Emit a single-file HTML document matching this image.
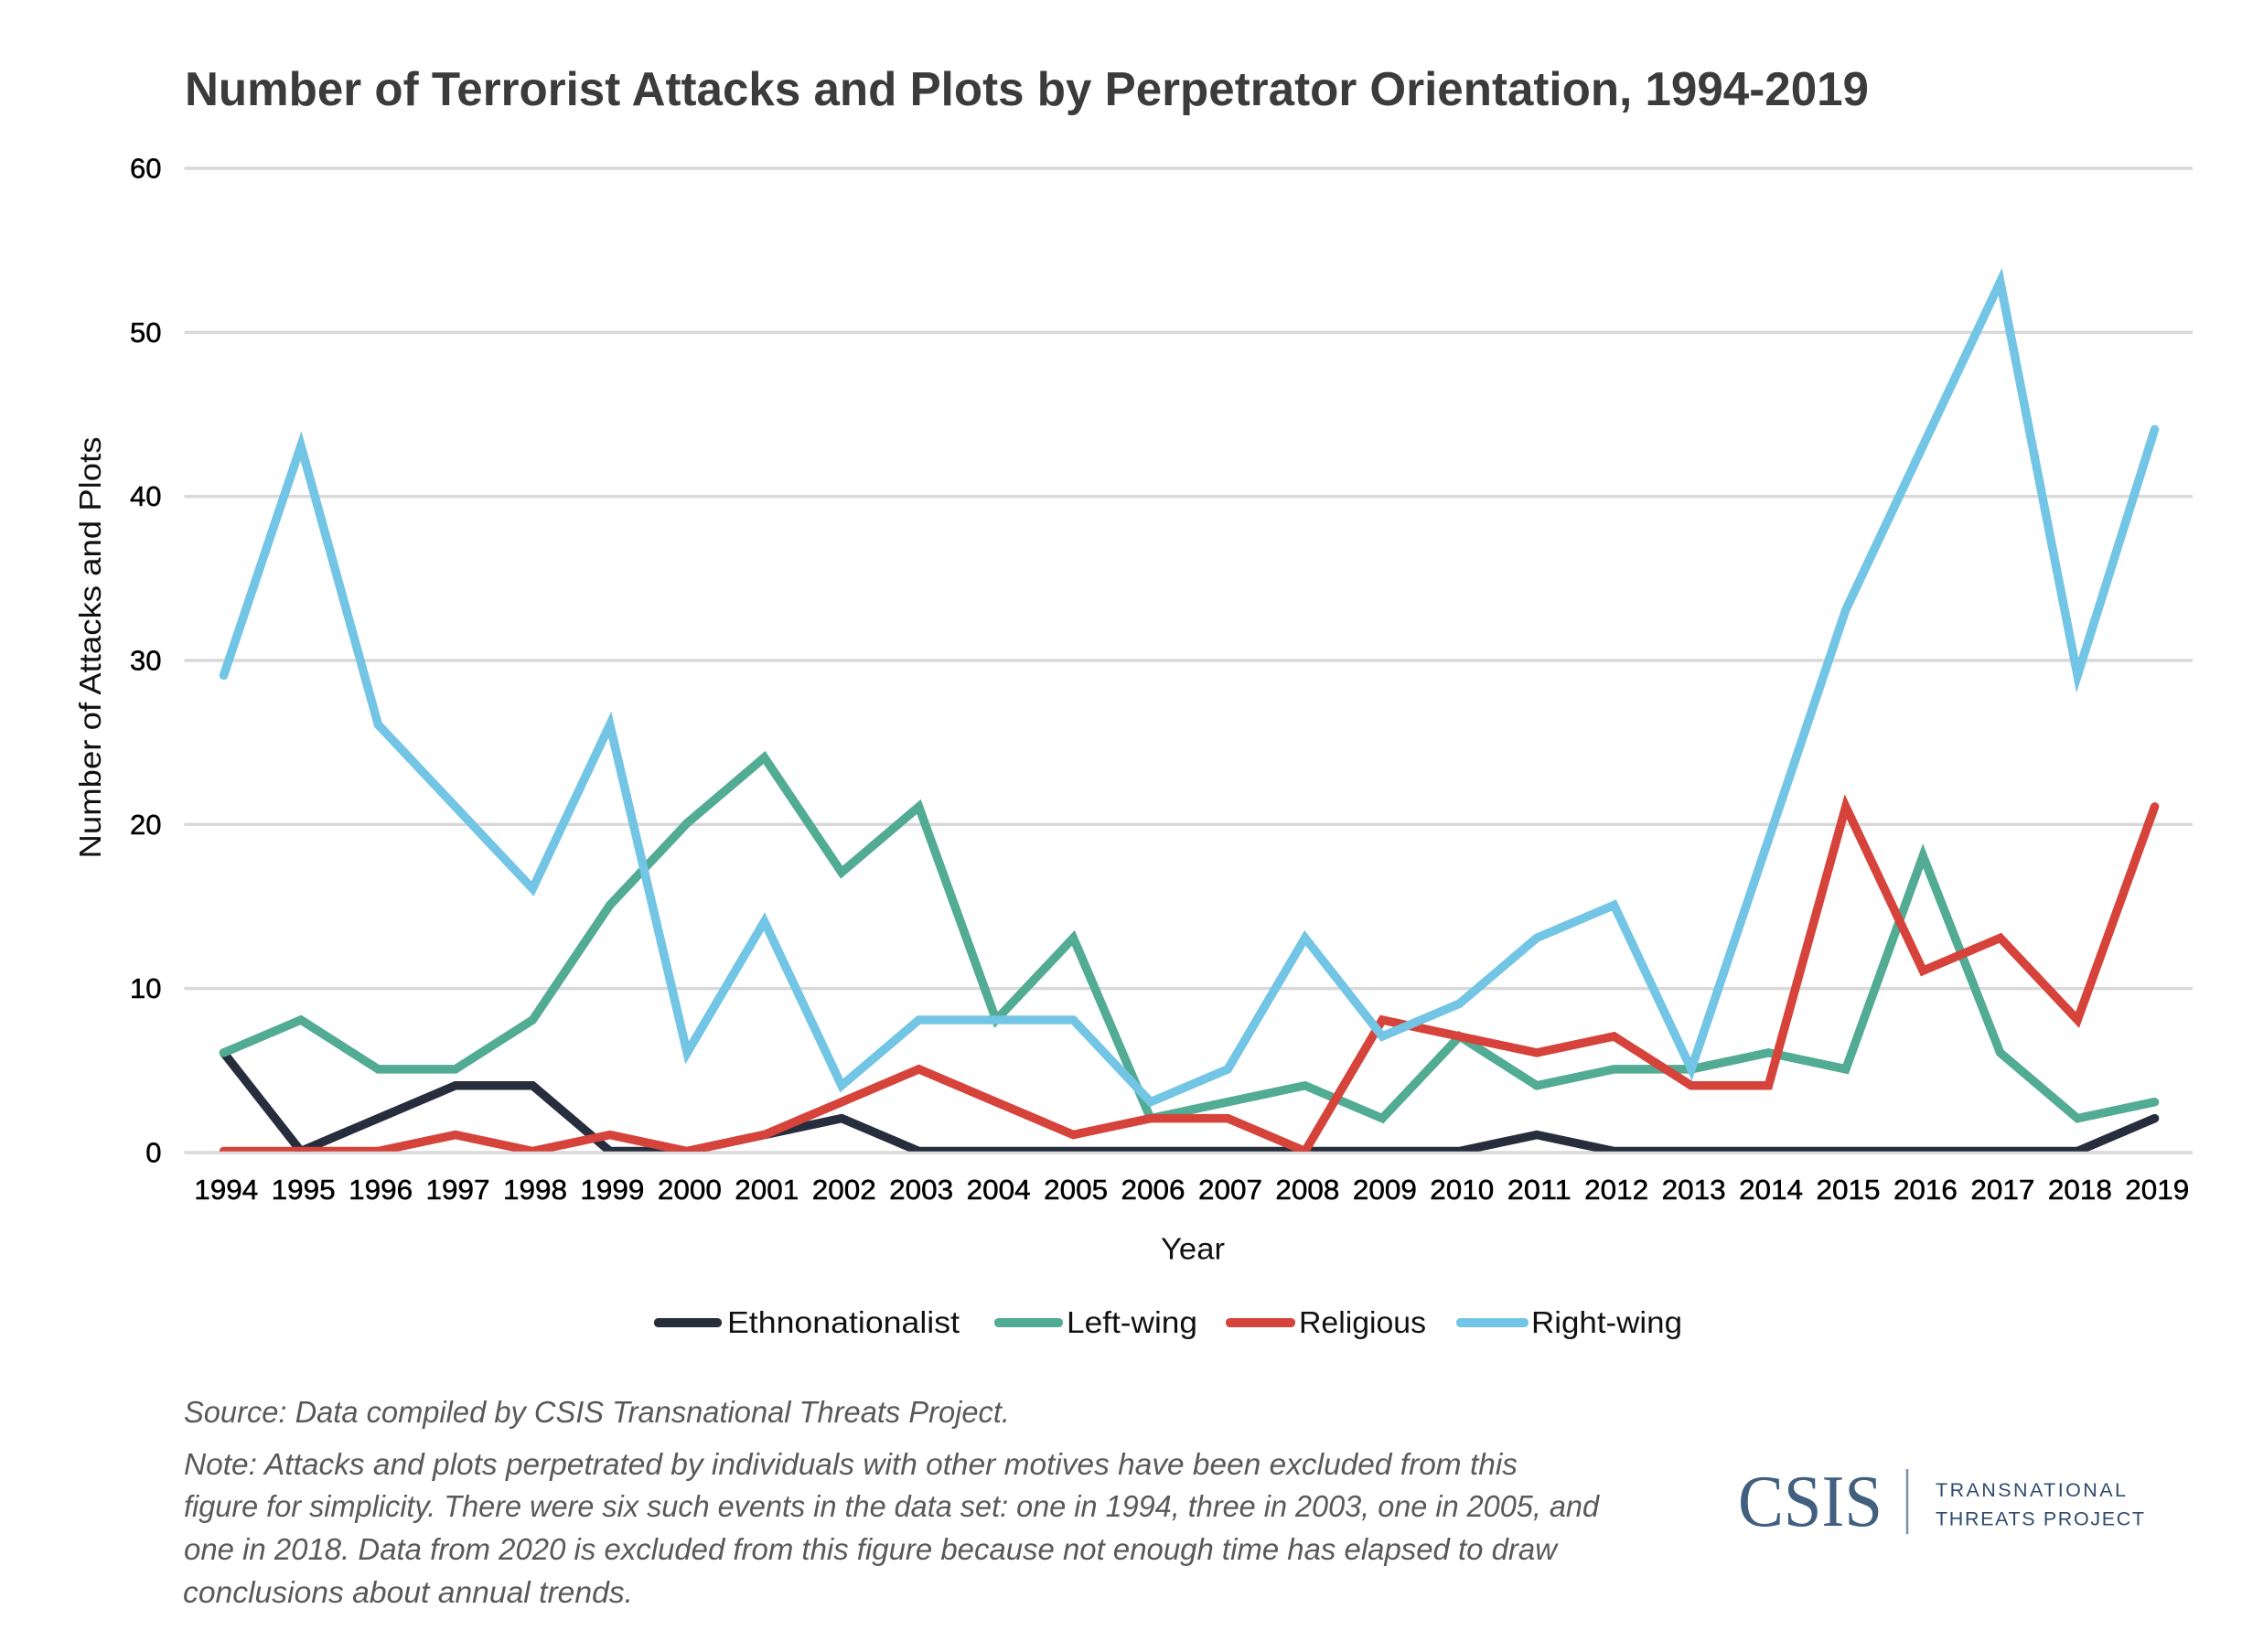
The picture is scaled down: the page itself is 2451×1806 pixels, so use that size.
<!DOCTYPE html>
<html lang="en">
<head>
<meta charset="utf-8">
<title>Number of Terrorist Attacks and Plots by Perpetrator Orientation, 1994-2019</title>
<style>
  html, body { margin: 0; padding: 0; background: #ffffff; }
  svg { display: block; }
  text { font-family: "Liberation Sans", sans-serif; }
</style>
</head>
<body>
<svg id="chart" xmlns="http://www.w3.org/2000/svg" width="2451" height="1806" viewBox="0 0 2451 1806">
  <defs>
    <clipPath id="plot-clip">
      <rect x="0" y="0" width="2451" height="1258.7"/>
    </clipPath>
  </defs>
  <rect x="0" y="0" width="2451" height="1806" fill="#ffffff"/>
  <text x="202" y="115" font-size="52" font-weight="700" fill="#3b3b3b" textLength="1841" lengthAdjust="spacingAndGlyphs">Number of Terrorist Attacks and Plots by Perpetrator Orientation, 1994-2019</text>

  <g id="grid"></g>
  <g id="y-ticks"></g>
  <g id="x-ticks"></g>
  <g id="series" clip-path="url(#plot-clip)"></g>

  <text transform="translate(110 708) rotate(-90)" text-anchor="middle" font-size="33" fill="#111111" textLength="461" lengthAdjust="spacingAndGlyphs">Number of Attacks and Plots</text>
  <text x="1304" y="1376.5" text-anchor="middle" font-size="33" fill="#111111" textLength="70" lengthAdjust="spacingAndGlyphs">Year</text>

  <g>
    <g>
      <rect x="715" y="1441" width="74" height="10" rx="4.5" fill="#262d3c"/>
      <text x="795" y="1457" font-size="33" fill="#111111" textLength="254" lengthAdjust="spacingAndGlyphs">Ethnonationalist</text>
    </g>
    <g>
      <rect x="1087" y="1441" width="75" height="10" rx="4.5" fill="#52ab93"/>
      <text x="1166" y="1457" font-size="33" fill="#111111" textLength="143" lengthAdjust="spacingAndGlyphs">Left-wing</text>
    </g>
    <g>
      <rect x="1340" y="1441" width="76" height="10" rx="4.5" fill="#d5433b"/>
      <text x="1420" y="1457" font-size="33" fill="#111111" textLength="139" lengthAdjust="spacingAndGlyphs">Religious</text>
    </g>
    <g>
      <rect x="1592" y="1441" width="79" height="10" rx="4.5" fill="#72c5e5"/>
      <text x="1674" y="1457" font-size="33" fill="#111111" textLength="165" lengthAdjust="spacingAndGlyphs">Right-wing</text>
    </g>
  </g>

  <text x="201" y="1555" font-size="33" font-style="italic" fill="#595959" textLength="903" lengthAdjust="spacingAndGlyphs">Source: Data compiled by CSIS Transnational Threats Project.</text>
  <g font-size="33" font-style="italic" fill="#595959">
    <text x="201" y="1612" textLength="1458" lengthAdjust="spacingAndGlyphs">Note: Attacks and plots perpetrated by individuals with other motives have been excluded from this</text>
    <text x="201" y="1658" textLength="1547" lengthAdjust="spacingAndGlyphs">figure for simplicity. There were six such events in the data set: one in 1994, three in 2003, one in 2005, and</text>
    <text x="201" y="1705" textLength="1501" lengthAdjust="spacingAndGlyphs">one in 2018. Data from 2020 is excluded from this figure because not enough time has elapsed to draw</text>
    <text x="200" y="1752" textLength="492" lengthAdjust="spacingAndGlyphs">conclusions about annual trends.</text>
  </g>

  <g>
    <text x="1900" y="1668" font-size="80" fill="#41607f" textLength="158" lengthAdjust="spacingAndGlyphs" style="font-family:'Liberation Serif',serif">CSIS</text>
    <line x1="2085" y1="1606" x2="2085" y2="1677" stroke="#7a90a8" stroke-width="2.5"/>
    <text x="2116" y="1636" font-size="21.5" fill="#2f4b6e" textLength="208" lengthAdjust="spacing">TRANSNATIONAL</text>
    <text x="2116" y="1667.5" font-size="21.5" fill="#2f4b6e" textLength="228" lengthAdjust="spacing">THREATS PROJECT</text>
  </g>
</svg>

<script>
const years = [1994,1995,1996,1997,1998,1999,2000,2001,2002,2003,2004,2005,2006,2007,2008,2009,2010,2011,2012,2013,2014,2015,2016,2017,2018,2019];
const yTickValues = [0,10,20,30,40,50,60];
const ethnonationalist = [6,0,2,4,4,0,0,1,2,0,0,0,0,0,0,0,0,1,0,0,0,0,0,0,0,2];
const leftWing = [6,8,5,5,8,15,20,24,17,21,8,13,2,3,4,2,7,4,5,5,6,5,18,6,2,3];
const religious = [0,0,0,1,0,1,0,1,3,5,3,1,2,2,0,8,7,6,7,4,4,21,11,13,8,21];
const rightWing = [29,43,26,21,16,26,6,14,4,8,8,8,3,5,13,7,9,13,15,5,19,33,43,53,29,44];

const SVG_NS = 'http://www.w3.org/2000/svg';
const plotLeft = 201.5, plotRight = 2397, plotTop = 184, plotBottom = 1260;
const yMax = 60;
const seriesLift = 1.5;
const seriesShift = 0.8;
const bandWidth = (plotRight - plotLeft) / years.length;

function xScale(index) {
  return plotLeft + bandWidth * (index + 0.5);
}
function yScale(value) {
  return plotBottom - (value / yMax) * (plotBottom - plotTop);
}

const gridGroup = document.getElementById('grid');
const yTickGroup = document.getElementById('y-ticks');
const xTickGroup = document.getElementById('x-ticks');
const seriesGroup = document.getElementById('series');

yTickValues.forEach(function (tick) {
  const gridLine = document.createElementNS(SVG_NS, 'line');
  
  
  gridLine.setAttribute('x1', plotLeft);
  gridLine.setAttribute('x2', plotRight);
  gridLine.setAttribute('y1', yScale(tick));
  gridLine.setAttribute('y2', yScale(tick));
  gridLine.setAttribute('stroke', '#d9d9d9');
  gridLine.setAttribute('stroke-width', '3.4');
  gridGroup.appendChild(gridLine);

  const label = document.createElementNS(SVG_NS, 'text');
  
  
  label.setAttribute('x', 176.5);
  label.setAttribute('y', yScale(tick) + 10.5);
  label.setAttribute('text-anchor', 'end');
  label.setAttribute('font-size', '31');
  label.setAttribute('fill', '#000000');
  label.setAttribute('stroke', '#000000');
  label.setAttribute('stroke-width', '0.5');
  label.textContent = String(tick);
  yTickGroup.appendChild(label);
});

years.forEach(function (year, i) {
  const label = document.createElementNS(SVG_NS, 'text');
  
  
  label.setAttribute('x', xScale(i) + 3.5);
  label.setAttribute('y', 1311);
  label.setAttribute('text-anchor', 'middle');
  label.setAttribute('font-size', '31');
  label.setAttribute('fill', '#000000');
  label.setAttribute('stroke', '#000000');
  label.setAttribute('stroke-width', '0.5');
  label.setAttribute('textLength', '70');
  label.setAttribute('lengthAdjust', 'spacingAndGlyphs');
  label.textContent = String(year);
  xTickGroup.appendChild(label);
});

function drawSeries(values, colour, name) {
  const points = values.map(function (v, i) {
    return (xScale(i) + seriesShift).toFixed(2) + ',' + (yScale(v) - seriesLift).toFixed(2);
  }).join(' ');
  const line = document.createElementNS(SVG_NS, 'polyline');
  
  
  line.setAttribute('points', points);
  line.setAttribute('fill', 'none');
  line.setAttribute('stroke', colour);
  line.setAttribute('stroke-width', '9.5');
  line.setAttribute('stroke-linecap', 'round');
  line.setAttribute('stroke-linejoin', 'miter');
  line.setAttribute('stroke-miterlimit', '12');
  seriesGroup.appendChild(line);
}

drawSeries(ethnonationalist, '#262d3c', 'ethnonationalist-line');
drawSeries(leftWing, '#52ab93', 'left-wing-line');
drawSeries(religious, '#d5433b', 'religious-line');
drawSeries(rightWing, '#72c5e5', 'right-wing-line');
</script>
</body>
</html>
